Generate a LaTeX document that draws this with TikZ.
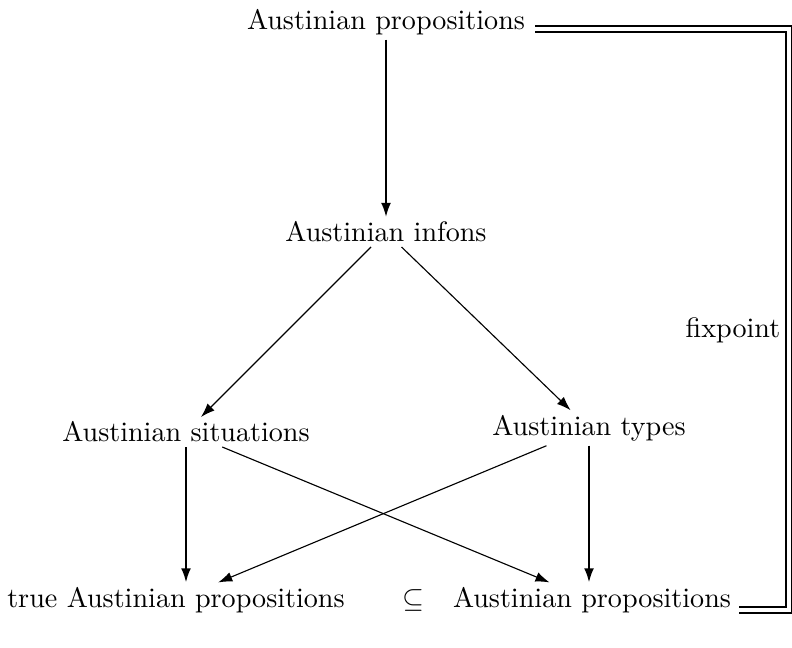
\documentclass[tikz,border=0pt]{standalone}
\usepackage{amsmath}
\usepackage{tikz}
\usetikzlibrary{arrows.meta, calc}

\begin{document}
\begin{tikzpicture}[
		x=0.0125cm, y=-0.0125cm,
		% Plain text labels
		term/.style={
			inner sep=1.5pt
		},
		% Straight down arrows
		down arrow/.style={
			line width=0.7pt,
			-{Latex[length=5pt, width=3.5pt]}
		},
		% Slanted arrows
		slant arrow/.style={
			line width=0.4pt,
			-{Latex[length=5pt, width=3.5pt]}
		},
		% Fixpoint loop
		fix line/.style={
			double,
			line width=0.75pt,
			double distance=1.3pt
		}
		]
		
		\useasboundingbox (0,0) rectangle (792,648);
		
		% --- Nodes ---
		\node[term] (prop) at (386,22) {Austinian propositions};
		\node[term] (infon) at (386,232) {Austinian infons};
		\node[term] (sit) at (186,432) {Austinian situations};
		\node[term] (typ) at (589,428) {Austinian types};
		\node[term] (trueprop) at (176,600) {true Austinian propositions};
		\node[term] (subs) at (413,600) {$\subseteq$};
		\node[term] (botprop) at (592,600) {Austinian propositions};
		
		% --- Arrows ---
		\draw[down arrow] (prop) -- (infon);
		\draw[slant arrow] (infon) -- (sit);
		\draw[slant arrow] (infon) -- (typ);
		\draw[down arrow] (sit) -- (sit |- trueprop.north);
		\draw[down arrow] (typ) -- (typ |- botprop.north);
		\draw[slant arrow] (sit) -- (botprop);
		\draw[slant arrow] (typ) -- (trueprop);
		
		% --- Fixpoint loop ---
		\coordinate (rt) at (789,29);
		\draw[fix line] ([xshift=2pt, yshift=-2.5pt]prop.east) -- ([yshift=-2.5pt]prop.east -| rt)
		-- ([yshift=-3.5pt]botprop.east -| rt) -- ([xshift=1pt, yshift=-3.5pt]botprop.east);
		\node[term, anchor=east] (fix) at (785,330) {fixpoint};
		
	\end{tikzpicture}
\end{document}
